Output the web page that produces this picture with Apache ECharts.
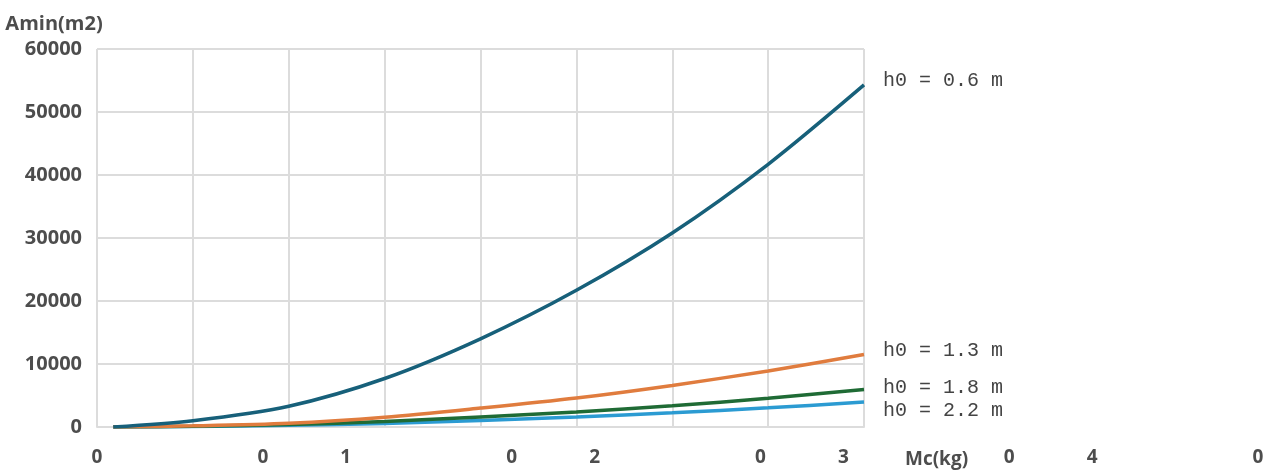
<!DOCTYPE html>
<html>
<head>
<meta charset="utf-8">
<script src="https://cdn.jsdelivr.net/npm/echarts@6/dist/echarts.min.js"></script>
<style>
html,body{margin:0;padding:0;background:#fff;}
#chart{width:1270px;height:476px;}
</style>
</head>
<body>
<div id="chart"></div>
<script>
// x positions in grid units (plot spans 0..8 gridline columns)
var xValues = [0.17, 1, 2, 3, 4, 5, 6, 7, 8];
var seriesNames = ['h0 = 0.6 m', 'h0 = 1.3 m', 'h0 = 1.8 m', 'h0 = 2.2 m'];
var h06 = [0, 1000, 3300, 7700, 14000, 21700, 30800, 41700, 54300];
var h13 = [0, 180, 600, 1560, 3000, 4600, 6600, 8900, 11500];
var h18 = [0, 110, 380, 880, 1600, 2380, 3380, 4550, 5950];
var h22 = [0, 80, 260, 560, 1050, 1580, 2250, 3040, 3950];
// bottom tick labels as they appear (15 evenly spaced slots)
var bottomLabels = ['0', '', '0', '1', '', '0', '2', '', '0', '3', '', '0', '4', '', '0'];
var xName = 'Mc(kg)';
var yName = 'Amin(m2)';

var colors = ['#17607a', '#e07c3e', '#1f6b35', '#2b9bd2'];
var labelOffsets = [-4, -4, -2, 9];
var allData = [h06, h13, h18, h22];

function pairs(arr) { return arr.map(function (v, i) { return [xValues[i], v]; }); }

var txt = '#4d4d4d';
var gridCol = '#dcdcdc';
var labelFont = {fontFamily: 'Open Sans', fontWeight: 'bold', fontSize: 19, color: txt};

var chart = echarts.init(document.getElementById('chart'), null, {renderer: 'canvas'});
chart.setOption({
  animation: false,
  backgroundColor: '#fff',
  grid: [
    {left: 97, top: 49, width: 767, height: 378, containLabel: false},
    {left: 97, top: 49, width: 1161, height: 378, containLabel: false}
  ],
  xAxis: [
    {
      type: 'value', gridIndex: 0, min: 0, max: 8, interval: 1,
      axisLine: {show: true, lineStyle: {color: gridCol, width: 2}},
      axisTick: {show: false},
      axisLabel: {show: false},
      splitLine: {show: true, lineStyle: {color: gridCol, width: 2}},
      name: xName, nameLocation: 'end', nameGap: 41,
      nameTextStyle: Object.assign({}, labelFont, {verticalAlign: 'top', padding: [23, 0, 0, 0]})
    },
    {
      type: 'category', gridIndex: 1, boundaryGap: false, data: bottomLabels,
      axisLine: {show: false}, axisTick: {show: false},
      splitLine: {show: false},
      axisLabel: Object.assign({}, labelFont, {interval: 0, margin: 21})
    }
  ],
  yAxis: [
    {
      type: 'value', gridIndex: 0, min: 0, max: 60000, interval: 10000,
      axisLine: {show: false}, axisTick: {show: false},
      axisLabel: Object.assign({}, labelFont, {fontSize: 20, margin: 15, formatter: function (v) { return String(v); }}),
      splitLine: {show: true, lineStyle: {color: gridCol, width: 2}},
      name: yName, nameLocation: 'end', nameGap: 15,
      nameTextStyle: Object.assign({}, labelFont, {fontSize: 20, align: 'center', padding: [0, 86, 0, 0]})
    },
    {type: 'value', gridIndex: 1, min: 0, max: 1, show: false}
  ],
  series: allData.map(function (d, i) {
    return {
      name: seriesNames[i], type: 'line', xAxisIndex: 0, yAxisIndex: 0,
      data: pairs(d), smooth: 0.3, showSymbol: false, symbol: 'none',
      lineStyle: {color: colors[i], width: 3.5}, itemStyle: {color: colors[i]},
      z: 10 - i,
      endLabel: {
        show: true, formatter: seriesNames[i], distance: 19, offset: [0, labelOffsets[i]],
        fontFamily: 'Liberation Mono', fontSize: 20, color: '#444'
      }
    };
  })
});
</script>
</body>
</html>
